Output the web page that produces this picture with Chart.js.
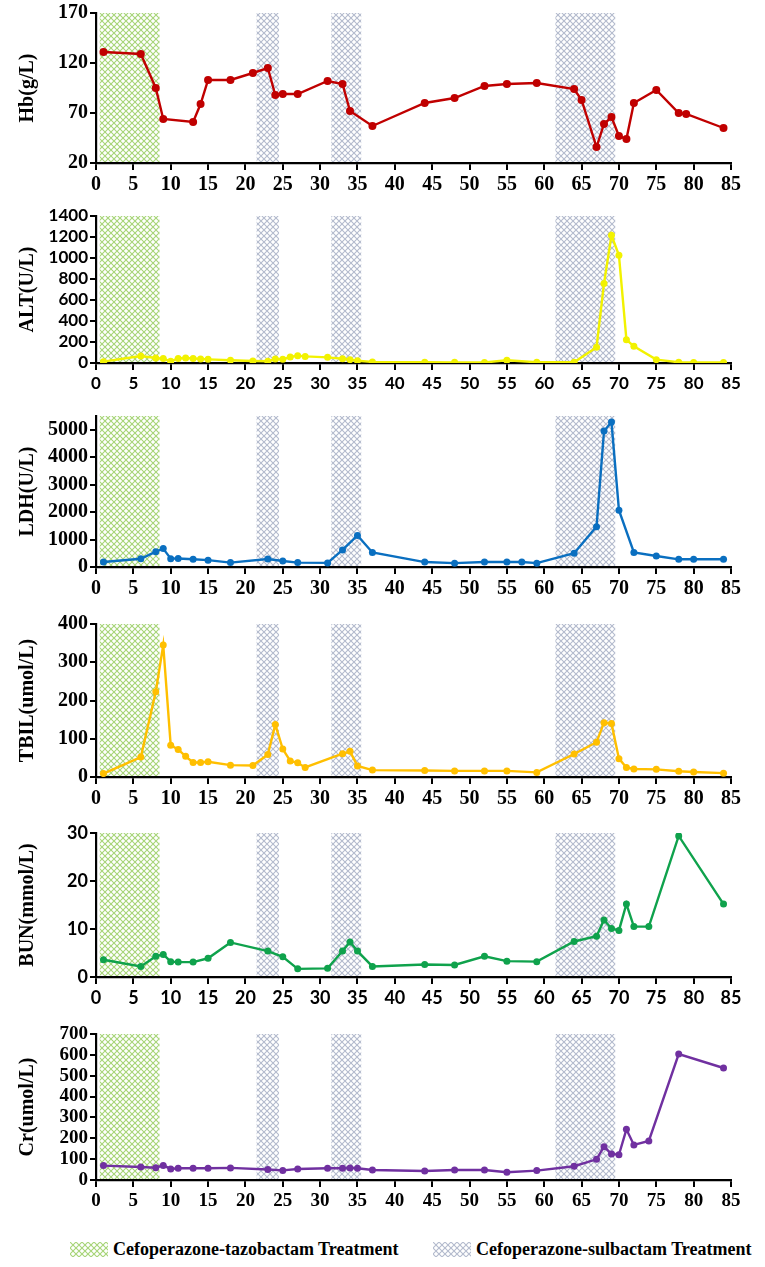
<!DOCTYPE html>
<html>
<head>
<meta charset="utf-8">
<script src="https://cdn.jsdelivr.net/npm/chart.js@4.4.0/dist/chart.umd.min.js"></script>
<style>
  body { margin: 0; background: #fff; }
  #wrap { position: relative; width: 765px; height: 1267px; overflow: hidden; }
  #wrap canvas.panel { position: absolute; left: 0; }
  .leg { position: absolute; top: 1239px; display: flex; align-items: center;
         font: bold 18px "Liberation Serif", "Times New Roman", serif; color: #000; white-space: nowrap; }
  .leg canvas { margin-right: 5px; }
</style>
</head>
<body>
<div id="wrap">
  <canvas class="panel" id="hb"></canvas>
  <canvas class="panel" id="alt"></canvas>
  <canvas class="panel" id="ldh"></canvas>
  <canvas class="panel" id="tbil"></canvas>
  <canvas class="panel" id="bun"></canvas>
  <canvas class="panel" id="cr"></canvas>
  <div class="leg" style="left:70px"><canvas id="sw1" width="38" height="15"></canvas>Cefoperazone-tazobactam Treatment</div>
  <div class="leg" style="left:433px"><canvas id="sw2" width="38" height="15"></canvas>Cefoperazone-sulbactam Treatment</div>
</div>
<script>
// treatment periods (day ranges)
const tazoBands = [[0.5, 8.5]];
const sulbBands = [[21.5, 24.5], [31.5, 35.5], [61.5, 69.5]];

// tick labels
const dayTicks = [0,5,10,15,20,25,30,35,40,45,50,55,60,65,70,75,80,85];
const hbTicks = [20,70,120,170];
const altTicks = [0,200,400,600,800,1000,1200,1400];
const ldhTicks = [0,1000,2000,3000,4000,5000];
const tbilTicks = [0,100,200,300,400];
const bunTicks = [0,10,20,30];
const crTicks = [0,100,200,300,400,500,600,700];

const hbDays = [1,6,8,9,13,14,15,18,21,23,24,25,27,31,33,34,37,44,48,52,55,59,64,65,67,68,69,70,71,72,75,78,79,84];
const hbValues = [131,129,95,64,61,79,103,103,110,115,88,89,89,102,99,72,57,80,85,97,99,100,94,83,36,59,66,47,44,80,93,70,69,55];

const altDays = [1,6,8,9,10,11,12,13,14,15,18,21,23,24,25,26,27,28,31,33,34,35,37,44,48,52,55,59,64,67,68,69,70,71,72,75,78,80,84];
const altValues = [13,67,48,42,16,44,48,44,38,35,26,19,16,38,35,57,70,63,54,41,32,22,10,8,6,5,26,7,7,150,756,1216,1026,222,159,32,7,5,5];

const ldhDays = [1,6,8,9,10,11,13,15,18,23,25,27,31,33,35,37,44,48,52,55,57,59,64,67,68,69,70,72,75,78,80,84];
const ldhValues = [180,300,560,670,305,310,280,250,160,290,220,160,150,620,1150,530,180,140,180,180,180,140,500,1470,4950,5280,2070,530,400,280,280,280];

const tbilDays = [1,6,8,9,10,11,12,13,14,15,18,21,23,24,25,26,27,28,33,34,35,37,44,48,52,55,59,64,67,68,69,70,71,72,75,78,80,84];
const tbilValues = [9,52,223,345,83,72,54,38,38,40,31,30,59,137,73,42,37,25,61,67,29,18,17,16,16,16,12,60,91,142,140,48,25,21,20,15,13,10];

const bunDays = [1,6,8,9,10,11,13,15,18,23,25,27,31,33,34,35,37,44,48,52,55,59,64,67,68,69,70,71,72,74,78,84];
const bunValues = [3.6,2.2,4.3,4.7,3.2,3.1,3.1,3.9,7.2,5.4,4.2,1.7,1.8,5.4,7.3,5.4,2.2,2.6,2.5,4.3,3.3,3.2,7.4,8.5,11.9,10.1,9.7,15.2,10.5,10.5,29.4,15.2];

const crDays = [1,6,8,9,10,11,13,15,18,23,25,27,31,33,34,35,37,44,48,52,55,59,64,67,68,69,70,71,72,74,78,84];
const crValues = [69,62,59,70,53,56,56,56,58,50,46,53,56,56,58,56,48,43,48,48,37,45,66,99,160,125,121,243,168,187,604,537];

const SERIF = '"Liberation Serif", "Times New Roman", serif';
const SANS = 'Lato, "Open Sans", sans-serif';
const TAZO_COLOR = '#a6d477';
const SULB_COLOR = '#b3bacd';

function hatch(ctx, color) {
  const c = document.createElement('canvas');
  c.width = 6; c.height = 6;
  const g = c.getContext('2d');
  g.fillStyle = '#fff';
  g.fillRect(0, 0, 6, 6);
  g.strokeStyle = color;
  g.lineWidth = 1.1;
  g.beginPath();
  g.moveTo(-1, -1); g.lineTo(7, 7);
  g.moveTo(7, -1); g.lineTo(-1, 7);
  g.stroke();
  return ctx.createPattern(c, 'repeat');
}

const bandPlugin = {
  id: 'bands',
  beforeDraw(chart) {
    const {ctx, chartArea, scales} = chart;
    const paint = (bands, color) => {
      const pat = hatch(ctx, color);
      bands.forEach(b => {
        const x1 = scales.x.getPixelForValue(b[0]);
        const x2 = scales.x.getPixelForValue(b[1]);
        ctx.save();
        ctx.fillStyle = pat;
        ctx.fillRect(x1, chartArea.top, x2 - x1, chartArea.bottom - chartArea.top);
        ctx.restore();
      });
    };
    paint(tazoBands, TAZO_COLOR);
    paint(sulbBands, SULB_COLOR);
  }
};

const PAD_TOP = 16;
const X_AXIS_H = 42;

function fixedTicks(list) {
  return s => { s.ticks = list.map(v => ({value: v})); };
}

function panel(id, days, values, yTicks, o) {
  const el = document.getElementById(id);
  const h = PAD_TOP + (o.bottom - o.top) + X_AXIS_H;
  el.width = 765;
  el.height = h;
  el.style.top = (o.top - PAD_TOP) + 'px';
  const tickFont = {family: o.family, size: o.size, weight: 'bold'};
  return new Chart(el, {
    type: 'line',
    data: {
      datasets: [{
        data: days.map((d, i) => ({x: d, y: values[i]})),
        borderColor: o.color,
        backgroundColor: o.color,
        borderWidth: 2.4,
        pointRadius: o.r || 3.5,
        pointHoverRadius: o.r || 3.5,
        pointBorderWidth: 0,
        tension: 0
      }]
    },
    options: {
      responsive: false,
      animation: false,
      layout: {padding: {top: PAD_TOP, right: 34, left: 0, bottom: 0}},
      plugins: {legend: {display: false}, tooltip: {enabled: false}},
      scales: {
        x: {
          type: 'linear',
          min: dayTicks[0], max: dayTicks[dayTicks.length - 1],
          afterBuildTicks: fixedTicks(dayTicks),
          ticks: {autoSkip: false, color: '#000', font: {...tickFont}, padding: 3, maxRotation: 0,
                  callback: v => String(v)},
          grid: {drawOnChartArea: false, drawTicks: true, tickLength: 7, color: '#000', lineWidth: 2},
          border: {display: true, color: '#000', width: 2.2},
          afterFit: s => { s.height = X_AXIS_H; }
        },
        y: {
          min: o.min, max: o.max,
          afterBuildTicks: fixedTicks(yTicks),
          ticks: {autoSkip: false, color: '#000', font: {...tickFont}, padding: 2,
                  callback: v => String(v)},
          grid: {drawOnChartArea: false, drawTicks: true, tickLength: 6, color: '#000', lineWidth: 2},
          border: {display: true, color: '#000', width: 2.2},
          title: {display: true, text: o.title, color: '#000',
                  font: {family: SERIF, size: 20, weight: 'bold'}, padding: {top: 16, bottom: 0}},
          afterFit: s => { s.width = 96; }
        }
      }
    },
    plugins: [bandPlugin]
  });
}

panel('hb', hbDays, hbValues, hbTicks, {top: 13, bottom: 163, min: 20, max: 170, title: 'Hb(g/L)',
  color: '#c00000', r: 4, family: SERIF, size: 20});
panel('alt', altDays, altValues, altTicks, {top: 216, bottom: 363, min: 0, max: 1400, title: 'ALT(U/L)',
  color: '#f2f200', family: SANS, size: 17});
panel('ldh', ldhDays, ldhValues, ldhTicks, {top: 416, bottom: 567, min: 0, max: 5500, title: 'LDH(U/L)',
  color: '#0a6fc0', family: SERIF, size: 20});
panel('tbil', tbilDays, tbilValues, tbilTicks, {top: 624, bottom: 777, min: 0, max: 400, title: 'TBIL(umol/L)',
  color: '#ffbf00', family: SERIF, size: 20});
panel('bun', bunDays, bunValues, bunTicks, {top: 833, bottom: 977, min: 0, max: 30, title: 'BUN(mmol/L)',
  color: '#0fa24c', family: SANS, size: 18});
panel('cr', crDays, crValues, crTicks, {top: 1034, bottom: 1180, min: 0, max: 700, title: 'Cr(umol/L)',
  color: '#7030a0', family: SERIF, size: 19});

// legend swatches
[['sw1', TAZO_COLOR], ['sw2', SULB_COLOR]].forEach(([id, col]) => {
  const c = document.getElementById(id);
  const g = c.getContext('2d');
  g.fillStyle = hatch(g, col);
  g.fillRect(0, 0, c.width, c.height);
});
</script>
</body>
</html>
